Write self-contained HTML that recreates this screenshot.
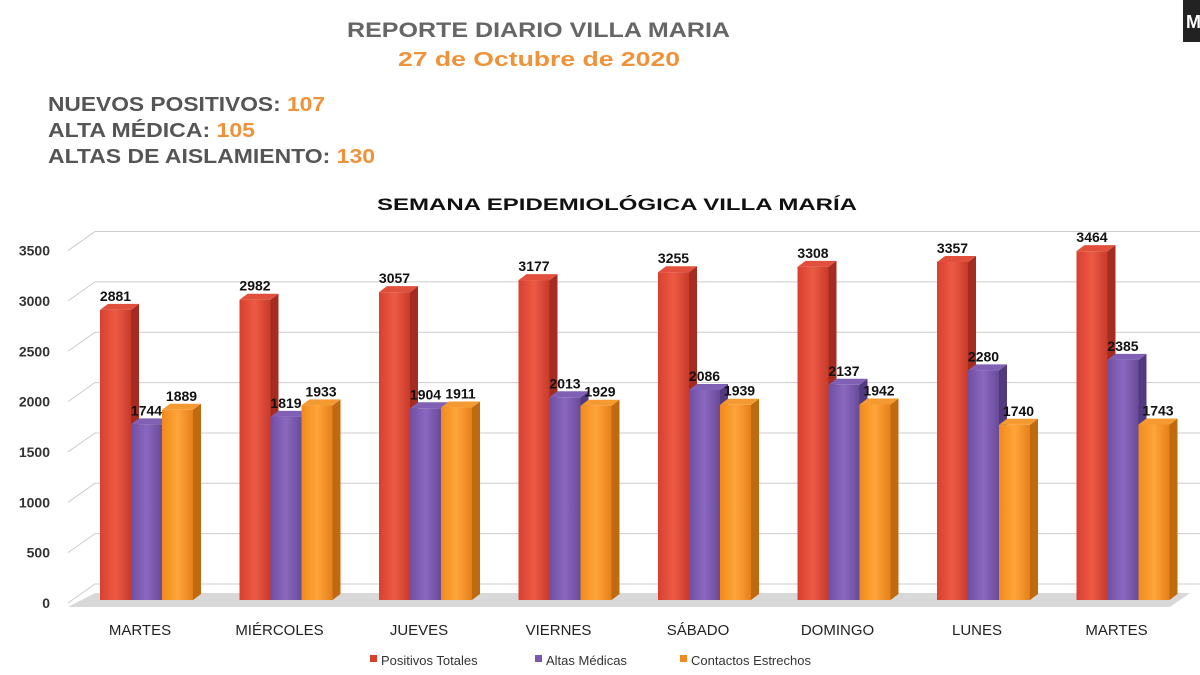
<!DOCTYPE html>
<html><head><meta charset="utf-8"><style>
body{margin:0;width:1200px;height:675px;background:#fff;overflow:hidden;font-family:"Liberation Sans",sans-serif}
</style></head><body>
<svg width="1200" height="675" style="position:absolute;left:0;top:0">
<defs>
<linearGradient id="gR" x1="0" x2="1"><stop offset="0" stop-color="#d8402f"/><stop offset="0.5" stop-color="#ec5a45"/><stop offset="1" stop-color="#c93a2a"/></linearGradient>
<linearGradient id="gP" x1="0" x2="1"><stop offset="0" stop-color="#6f4fa3"/><stop offset="0.5" stop-color="#8a68bf"/><stop offset="1" stop-color="#684a99"/></linearGradient>
<linearGradient id="gO" x1="0" x2="1"><stop offset="0" stop-color="#f08a1c"/><stop offset="0.5" stop-color="#ffa53a"/><stop offset="1" stop-color="#e6801a"/></linearGradient>
</defs>
<text x="347" y="37" textLength="383" lengthAdjust="spacingAndGlyphs" font-size="21" font-weight="bold" fill="#666">REPORTE DIARIO VILLA MARIA</text>
<text x="398" y="66" textLength="282" lengthAdjust="spacingAndGlyphs" font-size="20" font-weight="bold" fill="#f0923a">27 de Octubre de 2020</text>
<g font-size="20" font-weight="bold" fill="#555">
<text x="48" y="111" textLength="277" lengthAdjust="spacingAndGlyphs">NUEVOS POSITIVOS: <tspan fill="#f0923a">107</tspan></text>
<text x="48" y="137" textLength="207" lengthAdjust="spacingAndGlyphs">ALTA MÉDICA: <tspan fill="#f0923a">105</tspan></text>
<text x="48" y="163" textLength="327" lengthAdjust="spacingAndGlyphs">ALTAS DE AISLAMIENTO: <tspan fill="#f0923a">130</tspan></text>
</g>
<text x="377" y="210" textLength="480" lengthAdjust="spacingAndGlyphs" font-size="17" font-weight="bold" fill="#111">SEMANA EPIDEMIOLÓGICA VILLA MARÍA</text>
<rect x="1183" y="0" width="17" height="42" fill="#222"/>
<text x="1186" y="28" font-size="18" font-weight="bold" fill="#fff">M</text>
<g id="grid"></g>
<polygon points="68,607 95,593 1190,593 1170,607" fill="#d8d8d8"/>
<g id="bars"></g>
<g id="labels"></g>
<g font-size="13" fill="#333">
<rect x="370" y="655" width="7" height="7" fill="#d8402f"/><text x="381" y="665">Positivos Totales</text>
<rect x="535" y="655" width="7" height="7" fill="#7a58b0"/><text x="546" y="665">Altas Médicas</text>
<rect x="680" y="655" width="7" height="7" fill="#f08a1c"/><text x="691" y="665">Contactos Estrechos</text>
</g>
</svg>
<script>
const categories=["MARTES","MIÉRCOLES","JUEVES","VIERNES","SÁBADO","DOMINGO","LUNES","MARTES"];
const positivos=[2881,2982,3057,3177,3255,3308,3357,3464];
const altas=[1744,1819,1904,2013,2086,2137,2280,2385];
const contactos=[1889,1933,1911,1929,1939,1942,1740,1743];
const ticks=[0,500,1000,1500,2000,2500,3000,3500];
const NS="http://www.w3.org/2000/svg";
const y=v=>600-v*0.1007;
const x=i=>100+i*139.5;
function mk(t,a,p){const e=document.createElementNS(NS,t);for(const k in a)e.setAttribute(k,a[k]);p.appendChild(e);return e;}
const grid=document.getElementById('grid');
ticks.forEach(t=>{
  const yy=y(t)+3;
  const l=mk('polyline',{points:`68,${yy} 95,${yy-19} 1200,${yy-19}`,fill:'none',stroke:'#ccc','stroke-width':1},grid);
  
  
  const tx=mk('text',{x:50,y:yy+5,'text-anchor':'end','font-size':14,'font-weight':'bold',fill:'#333'},grid);
  tx.textContent=t;
  
  
});
const bars=document.getElementById('bars'),labels=document.getElementById('labels');
const series=[[positivos,'url(#gR)','#a52c20','#e0503c','positivos'],[altas,'url(#gP)','#523a80','#7f60b5','altas'],[contactos,'url(#gO)','#c06a10','#f59a30','contactos']];
categories.forEach((c,i)=>{
  series.forEach((s,j)=>{
    const v=s[0][i],x0=x(i)+j*31,w=31,top=y(v),d=8,dy=6;
    const g=mk('g',{},bars);
    
    
    mk('polygon',{points:`${x0+w},${top} ${x0+w+d},${top-dy} ${x0+w+d},${600-dy} ${x0+w},600`,fill:s[2]},g);
    mk('polygon',{points:`${x0},${top} ${x0+d},${top-dy} ${x0+w+d},${top-dy} ${x0+w},${top}`,fill:s[3]},g);
    mk('rect',{x:x0,y:top,width:w,height:600-top,fill:s[1]},g);
    const t=mk('text',{x:x0+w/2+(j==2?4:0),y:top-9,'text-anchor':'middle','font-size':14,'font-weight':'bold',fill:'#111'},labels);
    t.textContent=v;
    
    
  });
  const t=mk('text',{x:x(i)+40,y:635,'text-anchor':'middle','font-size':15,fill:'#222'},labels);
  t.textContent=c;
  
  
});
</script>
</body></html>
